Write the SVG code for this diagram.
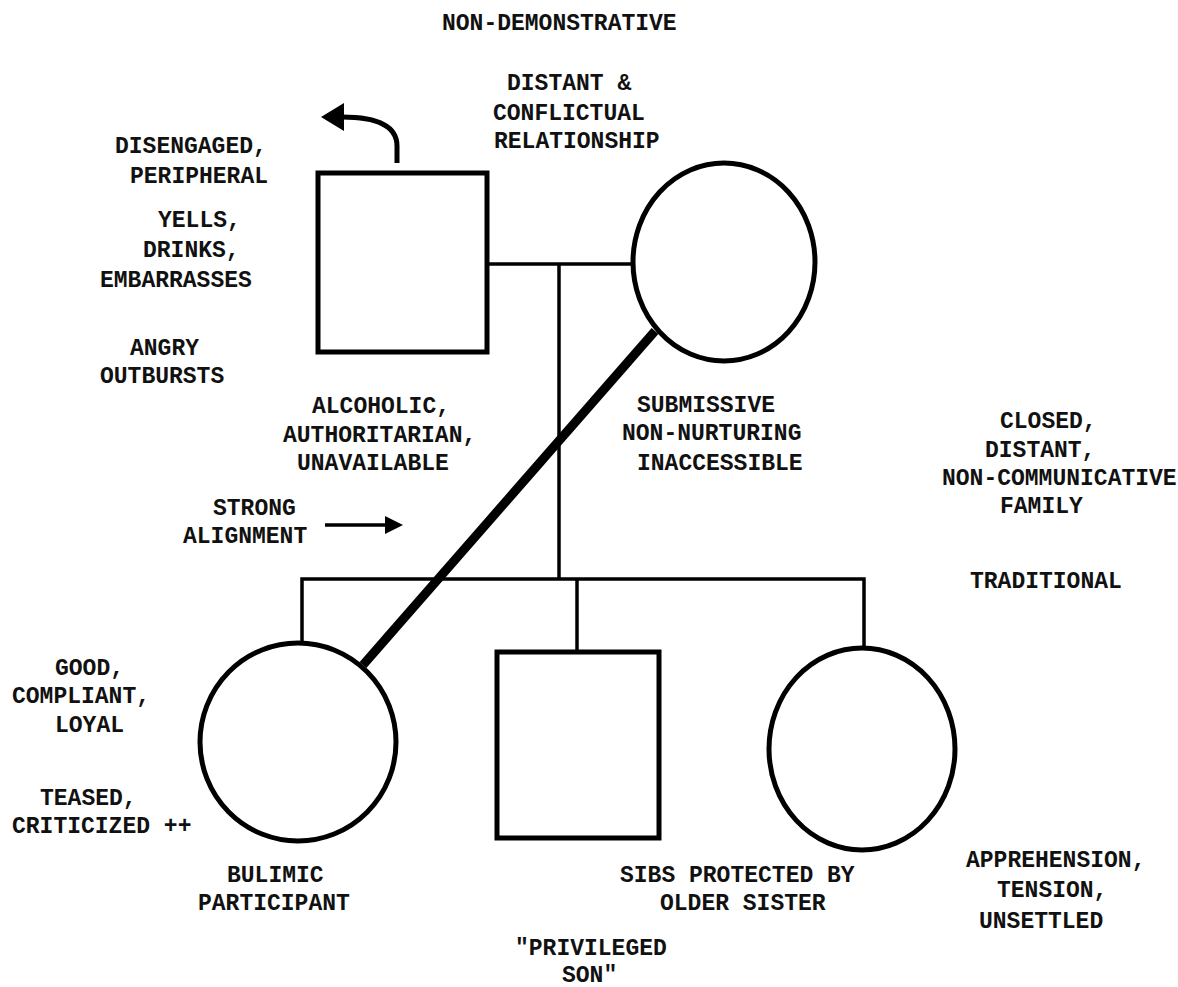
<svg xmlns="http://www.w3.org/2000/svg" width="1178" height="987" viewBox="0 0 1178 987">
<style>
.t{font-family:"Liberation Mono","Courier New",monospace;font-weight:bold;font-size:23px;fill:#111}
.n{fill:none;stroke:#000;stroke-width:5}
.c{fill:none;stroke:#000;stroke-width:3.5}
</style>
<rect width="1178" height="987" fill="#fff"/>
<g id="father"><rect class="n" x="318" y="173" width="169" height="179"/></g>
<g id="mother"><ellipse class="n" cx="724" cy="262" rx="91" ry="99"/></g>
<g id="bulimic-participant"><ellipse class="n" cx="298" cy="742" rx="98" ry="99"/></g>
<g id="son"><rect class="n" x="497" y="652" width="162" height="186"/></g>
<g id="sister"><ellipse class="n" cx="862" cy="749" rx="93" ry="101"/></g>
<g id="connectors">
<path class="c" d="M487,264 H633"/>
<path class="c" d="M559,264 V580"/>
<path class="c" d="M302,642 V579 H864 V648"/>
<path class="c" d="M577,580 V652"/>
<path d="M655,331 L363,665" stroke="#000" stroke-width="9" fill="none"/>
<path d="M397,163 V146 Q397,117 342,117" stroke="#000" stroke-width="5" fill="none"/>
<polygon points="321,117 344,103 344,131" fill="#000"/>
<path d="M325,525 H390" stroke="#000" stroke-width="3.5" fill="none"/>
<polygon points="403,525 385,516 385,534" fill="#000"/>
</g>
<g id="labels">
<text class="t" x="442" y="30">NON-DEMONSTRATIVE</text>
<text class="t" x="507" y="90">DISTANT &amp;</text>
<text class="t" x="493" y="120">CONFLICTUAL</text>
<text class="t" x="494" y="148">RELATIONSHIP</text>
<text class="t" x="115" y="153">DISENGAGED,</text>
<text class="t" x="130" y="183">PERIPHERAL</text>
<text class="t" x="158" y="227">YELLS,</text>
<text class="t" x="143" y="257">DRINKS,</text>
<text class="t" x="100" y="287">EMBARRASSES</text>
<text class="t" x="130" y="355">ANGRY</text>
<text class="t" x="100" y="383">OUTBURSTS</text>
<text class="t" x="312" y="413">ALCOHOLIC,</text>
<text class="t" x="283" y="442">AUTHORITARIAN,</text>
<text class="t" x="297" y="470">UNAVAILABLE</text>
<text class="t" x="637" y="412">SUBMISSIVE</text>
<text class="t" x="622" y="440">NON-NURTURING</text>
<text class="t" x="637" y="470">INACCESSIBLE</text>
<text class="t" x="1000" y="428">CLOSED,</text>
<text class="t" x="985" y="457">DISTANT,</text>
<text class="t" x="942" y="485">NON-COMMUNICATIVE</text>
<text class="t" x="1000" y="513">FAMILY</text>
<text class="t" x="213" y="515">STRONG</text>
<text class="t" x="183" y="543">ALIGNMENT</text>
<text class="t" x="970" y="588">TRADITIONAL</text>
<text class="t" x="55" y="675">GOOD,</text>
<text class="t" x="12" y="703">COMPLIANT,</text>
<text class="t" x="55" y="732">LOYAL</text>
<text class="t" x="40" y="805">TEASED,</text>
<text class="t" x="12" y="833">CRITICIZED ++</text>
<text class="t" x="227" y="882">BULIMIC</text>
<text class="t" x="198" y="910">PARTICIPANT</text>
<text class="t" x="620" y="882">SIBS PROTECTED BY</text>
<text class="t" x="660" y="910">OLDER SISTER</text>
<text class="t" x="966" y="867">APPREHENSION,</text>
<text class="t" x="997" y="897">TENSION,</text>
<text class="t" x="979" y="928">UNSETTLED</text>
<text class="t" x="515" y="955">"PRIVILEGED</text>
<text class="t" x="562" y="982">SON"</text>
</g>
</svg>
